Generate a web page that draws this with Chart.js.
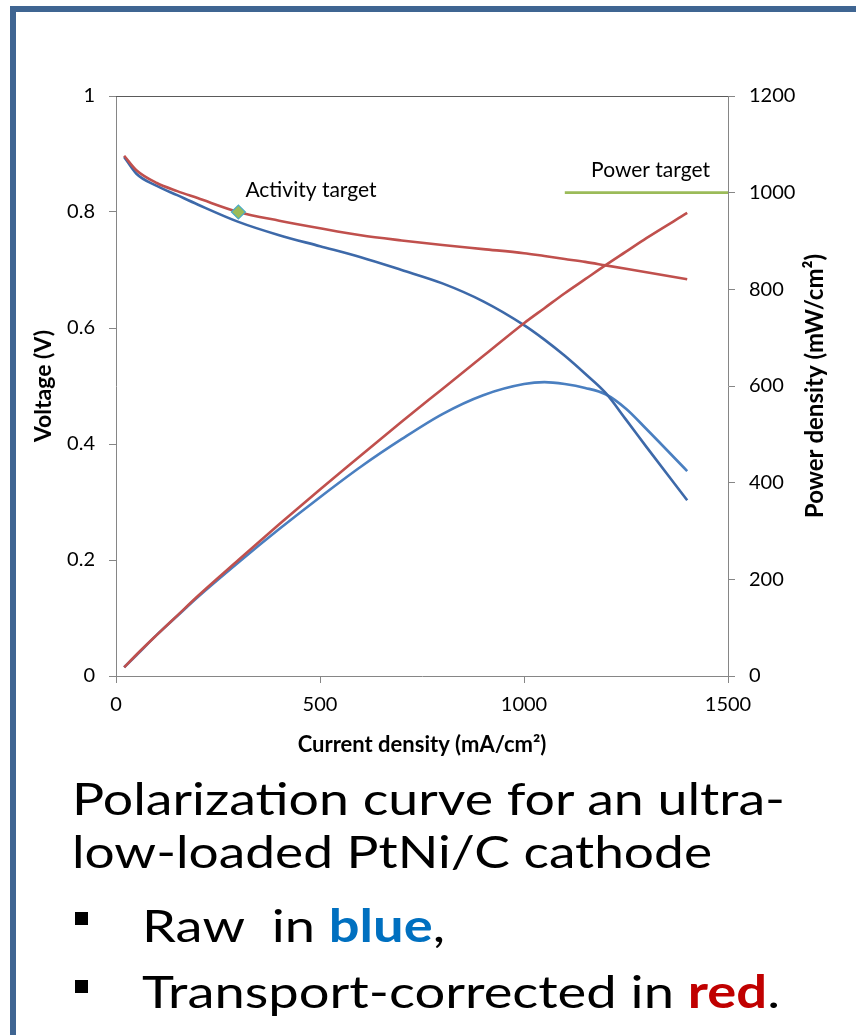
<!DOCTYPE html>
<html>
<head>
<meta charset="utf-8">
<script src="https://cdn.jsdelivr.net/npm/chart.js@4.4.0/dist/chart.umd.min.js"></script>
<style>
  html, body { margin: 0; padding: 0; background: #fff; }
  body { width: 856px; height: 1035px; position: relative; overflow: hidden; font-family: Lato, "Open Sans", sans-serif; }
  #frameTop { position: absolute; left: 10px; top: 6px; width: 846px; height: 6px; background: #3F6592; }
  #frameLeft { position: absolute; left: 10px; top: 6px; width: 6px; height: 1029px; background: #3F6592; }
  #wrap { position: absolute; left: 0; top: 0; width: 856px; height: 770px; }
  .txt { position: absolute; left: 72px; color: #000; font-size: 45px; white-space: nowrap; line-height: 1; display: inline-block; transform-origin: 0 50%; }
  .bul { position: absolute; left: 75px; width: 13px; height: 13px; background: #000; }
  .blue { color: #0070C0; font-weight: bold; }
  .red { color: #C00000; font-weight: bold; }
</style>
</head>
<body>
<div id="frameTop"></div>
<div id="frameLeft"></div>
<div id="wrap"><canvas id="c" width="856" height="770"></canvas></div>
<div class="txt" data-w="713" style="top:776px;">Polarization curve for an ultra-</div>
<div class="txt" data-w="640" style="top:829px;">low-loaded PtNi/C cathode</div>
<div class="bul" style="top:912px;"></div>
<div class="txt" data-w="303" style="top:903px; left:142px;">Raw&nbsp; in <span class="blue">blue</span>,</div>
<div class="bul" style="top:980px;"></div>
<div class="txt" data-w="638" style="top:969px; left:142px;">Transport-corrected in <span class="red">red</span>.</div>
<script>
// ---- data ----
const current = [20, 50, 100, 150, 200, 300, 400, 500, 600, 700, 800, 900, 1000, 1050, 1100, 1150, 1200, 1250, 1300, 1400];
const rawVoltage = [0.895, 0.866, 0.845, 0.829, 0.813, 0.783, 0.760, 0.741, 0.722, 0.700, 0.677, 0.646, 0.605, 0.580, 0.552, 0.521, 0.488, 0.442, 0.395, 0.303];
const corrVoltage = [0.897, 0.872, 0.850, 0.836, 0.824, 0.800, 0.785, 0.772, 0.760, 0.751, 0.743, 0.736, 0.729, 0.724, 0.719, 0.714, 0.708, 0.702, 0.696, 0.684];
const rawPower = [18, 43, 85, 124, 163, 235, 304, 370, 433, 490, 542, 581, 604, 608, 604, 596, 583, 553, 511, 424];
const corrPower = [18, 44, 85, 125, 165, 240, 314, 386, 456, 526, 594, 662, 730, 761, 792, 821, 850, 878, 906, 958];
const activityTarget = { x: 300, y: 0.8 };
const powerTargetX = [1100, 1500];
const powerTargetY = [1000, 1000];
const voltageTicks = [0, 0.2, 0.4, 0.6, 0.8, 1];
const powerTicks = [0, 200, 400, 600, 800, 1000, 1200];
const currentTicks = [0, 500, 1000, 1500];

// fit the caption lines to the widths seen in the reference
document.querySelectorAll('.txt').forEach(el => {
  const w = el.getBoundingClientRect().width;
  const target = parseFloat(el.dataset.w);
  if (w > 0) el.style.transform = 'scaleX(' + (target / w) + ')';
});

const pts = (xs, ys) => xs.map((x, i) => ({ x: x, y: ys[i] }));
const FONT = 'Lato, "Open Sans", sans-serif';
const AXIS_GRAY = '#868686';

const lineDs = (label, data, color, axis) => ({
  label, data, borderColor: color, backgroundColor: color, yAxisID: axis,
  borderWidth: 2.6, pointRadius: 0, fill: false, cubicInterpolationMode: 'monotone'
});

const extras = {
  id: 'extras',
  afterDraw(chart) {
    const { ctx, chartArea, scales } = chart;
    ctx.save();
    ctx.strokeStyle = '#5a5a5a';
    ctx.lineWidth = 1;
    ctx.beginPath();
    ctx.moveTo(chartArea.left, chartArea.top + 0.5);
    ctx.lineTo(chartArea.right, chartArea.top + 0.5);
    ctx.stroke();
    ctx.fillStyle = '#000';
    ctx.font = '21px ' + FONT;
    ctx.textBaseline = 'middle';
    const ax = scales.x.getPixelForValue(activityTarget.x);
    const ay = scales.y.getPixelForValue(activityTarget.y);
    ctx.textAlign = 'left';
    ctx.fillText('Activity target', ax + 7, ay - 22);
    const px = scales.x.getPixelForValue(powerTargetX[1]);
    const py = scales.y2.getPixelForValue(powerTargetY[1]);
    ctx.textAlign = 'right';
    ctx.fillText('Power target', px - 18, py - 22);
    ctx.font = 'bold 24px ' + FONT;
    ctx.textAlign = 'center';
    ctx.translate(815, (chartArea.top + chartArea.bottom) / 2);
    ctx.rotate(-Math.PI / 2);
    ctx.fillText('Power density (mW/cm²)', 0, 0);
    ctx.restore();
  }
};

new Chart(document.getElementById('c'), {
  type: 'line',
  data: {
    datasets: [
      {
        label: 'Activity target', type: 'scatter', data: [activityTarget], yAxisID: 'y',
        pointStyle: 'rectRot', pointRadius: 7, pointBackgroundColor: '#9BBB59',
        pointBorderColor: '#4BACC6', pointBorderWidth: 1.2, showLine: false
      },
      lineDs('Power target', pts(powerTargetX, powerTargetY), '#9BBB59', 'y2'),
      lineDs('Corrected voltage', pts(current, corrVoltage), '#C0504D', 'y'),
      lineDs('Corrected power', pts(current, corrPower), '#C0504D', 'y2'),
      lineDs('Raw voltage', pts(current, rawVoltage), '#3D69A9', 'y'),
      lineDs('Raw power', pts(current, rawPower), '#4A7FC0', 'y2')
    ]
  },
  options: {
    responsive: false,
    animation: false,
    devicePixelRatio: 1,
    layout: { padding: { top: 96, left: 0, right: 0, bottom: 0 } },
    plugins: { legend: { display: false }, tooltip: { enabled: false } },
    scales: {
      x: {
        type: 'linear', min: 0, max: 1500,
        afterBuildTicks: (s) => { s.ticks = currentTicks.map(v => ({ value: v })); },
        afterFit: (s) => { s.height = 94; },
        grid: { drawOnChartArea: false, drawTicks: true, tickLength: 7, color: AXIS_GRAY },
        border: { color: AXIS_GRAY, width: 1 },
        ticks: { color: '#000', font: { family: FONT, size: 20 }, padding: 10, maxRotation: 0, callback: v => String(v) },
        title: { display: true, text: 'Current density (mA/cm²)', color: '#000', font: { family: FONT, size: 22, weight: 'bold' }, padding: { top: 0, bottom: 12 } }
      },
      y: {
        type: 'linear', position: 'left', min: 0, max: 1,
        afterBuildTicks: (s) => { s.ticks = voltageTicks.map(v => ({ value: v })); },
        afterFit: (s) => { s.width = 116; },
        grid: { drawOnChartArea: false, drawTicks: true, tickLength: 7, color: AXIS_GRAY },
        border: { color: AXIS_GRAY, width: 1 },
        ticks: { color: '#000', font: { family: FONT, size: 20 }, padding: 14, callback: v => String(v) },
        title: { display: true, text: 'Voltage (V)', color: '#000', font: { family: FONT, size: 23, weight: 'bold' }, padding: { top: 30, bottom: 0 } }
      },
      y2: {
        type: 'linear', position: 'right', min: 0, max: 1200,
        afterBuildTicks: (s) => { s.ticks = powerTicks.map(v => ({ value: v })); },
        afterFit: (s) => { s.width = 128; },
        grid: { drawOnChartArea: false, drawTicks: true, tickLength: 7, color: AXIS_GRAY },
        border: { color: AXIS_GRAY, width: 1 },
        ticks: { color: '#000', font: { family: FONT, size: 20 }, padding: 14, callback: v => String(v) }
      }
    }
  },
  plugins: [extras]
});
</script>
</body>
</html>
